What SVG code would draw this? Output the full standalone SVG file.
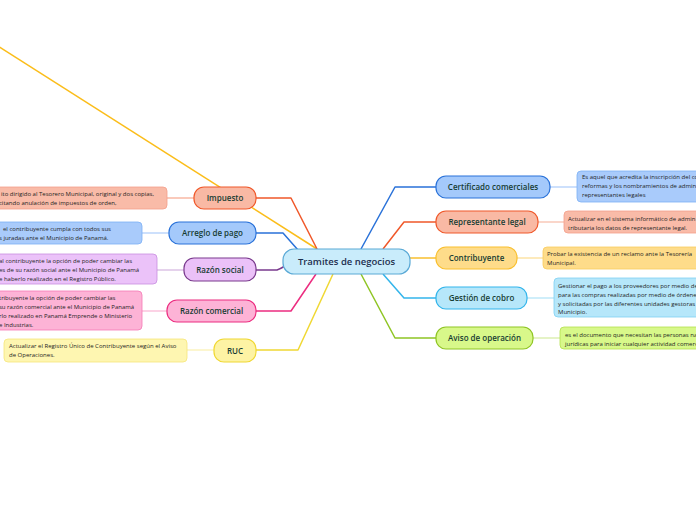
<svg xmlns="http://www.w3.org/2000/svg" width="696" height="520" viewBox="0 0 696 520">
<style>
.lbl{font-family:"Open Sans","Noto Sans",sans-serif;font-size:8px;font-weight:600;fill:#173d33;text-anchor:middle}
.ttl{font-family:"Open Sans","Noto Sans",sans-serif;font-size:9.5px;font-weight:600;fill:#1d2f4f;text-anchor:middle}
.d{font-family:"Open Sans","Noto Sans",sans-serif;font-size:6px;fill:#1f1f1f}
.c{fill:none;stroke-width:1.5;stroke-linejoin:round}
.s{fill:none;stroke-width:1.5}
.n{stroke-width:1.2}
.b{stroke-width:0.8}
</style>
<rect width="696" height="520" fill="#ffffff"/>
<g id="connectors">
<path class="c" stroke="#fbbd1a" d="M317,249 L-10,41"/>
<path class="c" stroke="#f0582a" d="M256,198 H291 L317,249"/>
<path class="c" stroke="#2a72d9" d="M256,233 H283 L298,250"/>
<path class="c" stroke="#7a3a8e" d="M256,270 H277 Q280,269 285,266"/>
<path class="c" stroke="#ec2d80" d="M256,311 H291 L316,274"/>
<path class="c" stroke="#f0d833" d="M256,350 H298 L333,274"/>
<path class="c" stroke="#2a72d9" d="M361,249 L395,187 H436"/>
<path class="c" stroke="#f0582a" d="M383,249 L404,222 H436"/>
<path class="c" stroke="#f9bf2e" d="M410,258 H436"/>
<path class="c" stroke="#33b5eb" d="M383,274 L404,298 H436"/>
<path class="c" stroke="#8fc524" d="M361,274 L395,338 H436"/>
<path class="s" stroke="#f9b9a4" d="M167,198 H194"/>
<path class="s" stroke="#bcd6fb" d="M142,233 H169"/>
<path class="s" stroke="#dcc3e6" d="M157,270 H184"/>
<path class="s" stroke="#fbc3dd" d="M142,311 H167"/>
<path class="s" stroke="#fbf3bf" d="M187,350 H214"/>
<path class="s" stroke="#bcd6fb" d="M550,187 H577"/>
<path class="s" stroke="#f9c8b8" d="M538,222 H564"/>
<path class="s" stroke="#fde3a6" d="M517,258 H543"/>
<path class="s" stroke="#bfe8f8" d="M527,298 H554"/>
<path class="s" stroke="#dcefb3" d="M533,338 H560"/>
</g>
<g id="center">
<rect class="n" x="283" y="249" width="127" height="25" rx="11" fill="#c9ecfb" stroke="#5aa9d6"/>
<text class="ttl" x="346.5" y="265">Tramites de negocios</text>
</g>
<g id="impuesto">
<rect class="n" x="194" y="187" width="62" height="22" rx="10" fill="#f9b9a4" stroke="#f0582a"/>
<text class="lbl" x="225" y="200.8">Impuesto</text>
</g>
<g id="impuesto-desc">
<rect class="b" x="-6" y="187" width="173" height="22" rx="4" fill="#f9bba8" stroke="#f4a08a"/>
<text class="d" x="1" y="195.5">ito dirigido al Tesorero Municipal, original y dos copias,</text>
<text class="d" x="-1" y="204.8">citando anulación de impuestos de orden,</text>
</g>
<g id="arreglo">
<rect class="n" x="169" y="222" width="87" height="22" rx="10" fill="#a4c9fb" stroke="#2a72d9"/>
<text class="lbl" x="212.5" y="235.8">Arreglo de pago</text>
</g>
<g id="arreglo-desc">
<rect class="b" x="-6" y="222" width="148" height="22" rx="4" fill="#a9cbfb" stroke="#7cb0f5"/>
<text class="d" x="3" y="230.5">el contribuyente cumpla con todos sus</text>
<text class="d" x="-1" y="239.5">s juradas ante el Municipio de Panamá.</text>
</g>
<g id="razon-social">
<rect class="n" x="184" y="258" width="72" height="23" rx="10" fill="#ebc1f8" stroke="#7a3a8e"/>
<text class="lbl" x="220" y="272.5">Razón social</text>
</g>
<g id="razon-social-desc">
<rect class="b" x="-6" y="254" width="163" height="30" rx="4" fill="#ebc2f9" stroke="#c88de0"/>
<text class="d" x="-1" y="263">al contribuyente la opción de poder cambiar las</text>
<text class="d" x="-1" y="272">es de su razón social ante el Municipio de Panamá</text>
<text class="d" x="-1" y="280.5">e haberlo realizado en el Registro Público.</text>
</g>
<g id="razon-comercial">
<rect class="n" x="167" y="300" width="89" height="22" rx="10" fill="#fdb3d6" stroke="#ec2d80"/>
<text class="lbl" x="211.5" y="313.8">Razón comercial</text>
</g>
<g id="razon-comercial-desc">
<rect class="b" x="-6" y="291" width="148" height="39" rx="4" fill="#fdb3d6" stroke="#f57ab5"/>
<text class="d" x="-1" y="300">tribuyente la opción de poder cambiar las</text>
<text class="d" x="-1" y="309">su razón comercial ante el Municipio de Panamá</text>
<text class="d" x="-1" y="318">rlo realizado en Panamá Emprende o Ministerio</text>
<text class="d" x="-1" y="327">e Industrias.</text>
</g>
<g id="ruc">
<rect class="n" x="214" y="339" width="42" height="23" rx="10" fill="#fdf3a4" stroke="#f0d833"/>
<text class="lbl" x="235" y="353.5">RUC</text>
</g>
<g id="ruc-desc">
<rect class="b" x="4" y="339" width="183" height="23" rx="4" fill="#fef6b1" stroke="#f6e67a"/>
<text class="d" x="9" y="348">Actualizar el Registro Único de Contribuyente según el Aviso</text>
<text class="d" x="9" y="356.5">de Operaciones.</text>
</g>
<g id="certificado">
<rect class="n" x="436" y="176" width="114" height="22" rx="10" fill="#a4c9fb" stroke="#2a72d9"/>
<text class="lbl" x="493" y="189.8">Certificado comerciales</text>
</g>
<g id="certificado-desc">
<rect class="b" x="577" y="171" width="130" height="31" rx="4" fill="#a9cbfb" stroke="#7cb0f5"/>
<text class="d" x="582" y="179">Es aquel que acredita la inscripción del co</text>
<text class="d" x="582" y="188">reformas y los nombramientos de admini</text>
<text class="d" x="582" y="196.5">representantes legales</text>
</g>
<g id="representante">
<rect class="n" x="436" y="211" width="102" height="22" rx="10" fill="#f9b9a4" stroke="#f0582a"/>
<text class="lbl" x="487" y="224.8">Representante legal</text>
</g>
<g id="representante-desc">
<rect class="b" x="564" y="211" width="140" height="22" rx="4" fill="#f9bba8" stroke="#f4a08a"/>
<text class="d" x="568" y="221">Actualizar en el sistema informático de admin</text>
<text class="d" x="568" y="229.5">tributaria los datos de representante legal.</text>
</g>
<g id="contribuyente">
<rect class="n" x="436" y="247" width="81" height="22" rx="10" fill="#fedc8a" stroke="#f9bf2e"/>
<text class="lbl" x="476.5" y="260.8">Contribuyente</text>
</g>
<g id="contribuyente-desc">
<rect class="b" x="543" y="247" width="160" height="22" rx="4" fill="#fedc8a" stroke="#f9cb5e"/>
<text class="d" x="547" y="256">Probar la existencia de un reclamo ante la Tesorería</text>
<text class="d" x="547" y="265">Municipal.</text>
</g>
<g id="gestion">
<rect class="n" x="436" y="287" width="91" height="22" rx="10" fill="#b6e7fa" stroke="#33b5eb"/>
<text class="lbl" x="481.5" y="300.8">Gestión de cobro</text>
</g>
<g id="gestion-desc">
<rect class="b" x="554" y="278" width="150" height="39" rx="4" fill="#b6e7fa" stroke="#7fd0f2"/>
<text class="d" x="558" y="288">Gestionar el pago a los proveedores por medio de</text>
<text class="d" x="558" y="297">para las compras realizadas por medio de órdene</text>
<text class="d" x="558" y="305.5">y solicitadas por las diferentes unidades gestoras</text>
<text class="d" x="558" y="314">Municipio.</text>
</g>
<g id="aviso">
<rect class="n" x="436" y="327" width="97" height="22" rx="10" fill="#d8f88a" stroke="#8fc524"/>
<text class="lbl" x="484.5" y="340.8">Aviso de operación</text>
</g>
<g id="aviso-desc">
<rect class="b" x="560" y="327" width="145" height="22" rx="4" fill="#d8f88a" stroke="#b4e04c"/>
<text class="d" x="565" y="337">es el documento que necesitan las personas na</text>
<text class="d" x="565" y="345.5">jurídicas para iniciar cualquier actividad comerc</text>
</g>
</svg>
